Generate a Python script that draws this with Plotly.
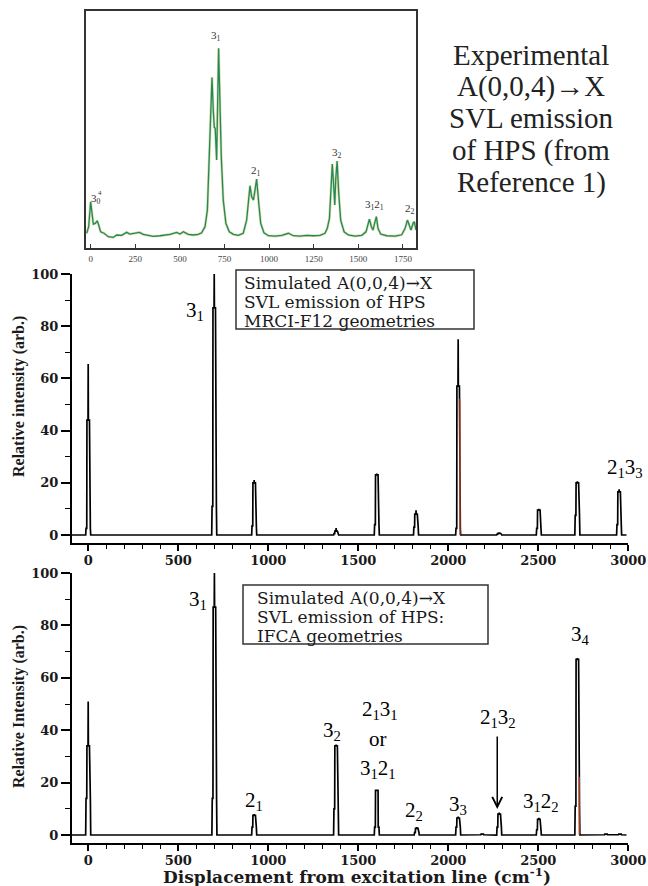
import plotly.graph_objects as go

# ---------------- data ----------------
# Experimental spectrum (arbitrary intensity units, 3_1 = 100)
exp_x = [-22, -11, 0, 7, 15, 26, 37, 45, 56, 75, 99, 127, 146, 174, 202, 220, 239, 273, 295, 323,
         351, 389, 416, 445, 482, 501, 519, 547, 575, 603, 622, 641, 654, 665, 680, 687, 693, 698,
         706, 717, 725, 732, 743, 758, 777, 800, 827, 855, 874, 893, 902, 912, 921, 930, 942, 953,
         971, 996, 1033, 1071, 1108, 1136, 1173, 1211, 1248, 1285, 1313, 1326, 1338, 1345, 1354,
         1362, 1368, 1373, 1381, 1390, 1401, 1420, 1444, 1481, 1519, 1543, 1562, 1573, 1582, 1592,
         1601, 1610, 1625, 1659, 1706, 1743, 1762, 1775, 1786, 1795, 1808, 1814, 1823]
exp_y = [2.0, 5.5, 18.7, 12.5, 6.9, 7.2, 8.6, 6.4, 2.8, 2.0, 0.2, -0.2, 1.1, 0.9, 2.5, 1.6, 2.0, 2.5,
         1.4, 0.7, 0.4, 0.7, 1.1, 1.4, 2.5, 1.6, 2.8, 1.4, 1.1, 1.4, 2.3, 5.5, 14.3, 40.8, 84.6, 67.3,
         58.1, 57.6, 40.8, 100, 67.3, 42.6, 19.6, 7.2, 2.8, 1.4, 0.9, 2.0, 9.0, 27.2, 21.4, 19.6, 24.9,
         30.7, 17.9, 7.2, 2.3, 0.7, 0.5, 0.9, 2.0, 0.7, 0.5, 0.9, 0.7, 0.9, 2.0, 4.6, 9.9, 23.2, 38.7,
         26.7, 17.0, 30.2, 40.3, 23.2, 9.0, 2.8, 1.1, 0.5, 0.9, 2.8, 9.5, 5.5, 3.7, 7.6, 10.8, 4.6,
         1.6, 0.7, 0.5, 1.2, 4.6, 9.0, 5.5, 3.7, 7.6, 8.1, 3.7]
exp_ticks = [0, 250, 500, 750, 1000, 1250, 1500, 1750]

# Simulated, MRCI-F12 geometries
mrci_pos = [0, 700, 922, 1377, 1603, 1821, 2055, 2283, 2503, 2717, 2949]
mrci_top = [65.5, 100, 21, 2.7, 23.5, 9.5, 75, 1.0, 10, 20.5, 17.5]
mrci_sh = [44, 87, 20, 1.5, 23, 8, 57, 0.6, 9.5, 20, 16.5]
mrci_base = [2.5, 11, 3.5, 0.5, 4, 3, 2.5, 0.3, 2.5, 7.5, 4]
mrci_red_pos = [2055]
mrci_red = [52]

# Simulated, IFCA geometries
ifca_pos = [0, 701, 922, 1377, 1603, 1825, 2055, 2189, 2283, 2503, 2717, 2876, 2954]
ifca_top = [51, 100, 8, 34.5, 17, 3, 7, 0.5, 8.5, 6.5, 67.5, 0.4, 0.4]
ifca_sh = [34, 87, 7.5, 34, 17, 2.5, 6.5, 0.3, 8, 6, 67, 0.3, 0.3]
ifca_base = [14, 14, 3, 10, 3, 1, 3, 0.1, 3, 2, 11, 0.1, 0.1]
ifca_red_pos = [2717]
ifca_red = [22]

sim_xticks = [0, 500, 1000, 1500, 2000, 2500, 3000]
sim_yticks = [0, 20, 40, 60, 80, 100]

SERIF = "Liberation Serif, Times New Roman, Times, serif"
WIDE_SERIF = "DejaVu Serif, serif"


def black_profile(pos, top, sh, base, x0=-90, x1=2990):
    xs, ys = [x0], [0]
    for p, t, s, b in zip(pos, top, sh, base):
        xs += [p - 14, p - 12, p - 8, p - 7, p - 1, p, p + 1, p + 7, p + 8, p + 12, p + 14]
        ys += [0, b, b, s, s, t, s, s, b, b, 0]
    xs.append(x1)
    ys.append(0)
    return xs, ys


def red_profile(pos, red):
    xs, ys = [], []
    for p, r in zip(pos, red):
        xs += [p + 6, p + 10, p + 10, None]
        ys += [r, r, 0, None]
    return xs, ys


fig = go.Figure()

# ---- top panel: experimental ----
fig.add_trace(go.Scatter(x=exp_x, y=exp_y, mode="lines", xaxis="x", yaxis="y",
                         line=dict(color="#c9c46a", width=2.6), opacity=0.6,
                         hoverinfo="skip", showlegend=False))
fig.add_trace(go.Scatter(x=exp_x, y=exp_y, mode="lines", xaxis="x", yaxis="y",
                         line=dict(color="#1f8a5c", width=1.3), showlegend=False))

# ---- middle panel ----
bx, by = black_profile(mrci_pos, mrci_top, mrci_sh, mrci_base)
fig.add_trace(go.Scatter(x=bx, y=by, mode="lines", xaxis="x2", yaxis="y2",
                         line=dict(color="black", width=1.7), showlegend=False))
rx, ry = red_profile(mrci_red_pos, mrci_red)
fig.add_trace(go.Scatter(x=rx, y=ry, mode="lines", xaxis="x2", yaxis="y2",
                         line=dict(color="#c8502e", width=1.2), showlegend=False))

# ---- bottom panel ----
bx, by = black_profile(ifca_pos, ifca_top, ifca_sh, ifca_base)
fig.add_trace(go.Scatter(x=bx, y=by, mode="lines", xaxis="x3", yaxis="y3",
                         line=dict(color="black", width=1.7), showlegend=False))
rx, ry = red_profile(ifca_red_pos, ifca_red)
fig.add_trace(go.Scatter(x=rx, y=ry, mode="lines", xaxis="x3", yaxis="y3",
                         line=dict(color="#c8502e", width=1.2), showlegend=False))

W, H = 648, 886


def px(x):
    return x / W


def py(y):
    return 1 - y / H


tick_font = dict(family=WIDE_SERIF, size=13, color="#1a1a1a", weight="bold")

sim_x_common = dict(range=[-90, 3000], showline=True, linecolor="black", linewidth=2,
                    ticks="outside", ticklen=6, tickwidth=1.5, tickcolor="black",
                    tickvals=sim_xticks, tickfont=tick_font, showgrid=False, zeroline=False,
                    ticklabelstandoff=-2, automargin=False,
                    minor=dict(ticks="outside", ticklen=4, tickwidth=1.2, tickcolor="black",
                               dtick=100, tick0=0, showgrid=False))
sim_y_common = dict(showline=True, linecolor="black", linewidth=2, automargin=False,
                    ticks="outside", ticklen=9, tickwidth=1.5, tickcolor="black",
                    tickvals=sim_yticks, tickfont=tick_font, showgrid=False, zeroline=False,
                    minor=dict(ticks="outside", ticklen=5, tickwidth=1.2, tickcolor="black",
                               dtick=10, tick0=0, showgrid=False))

fig.update_layout(
    width=W, height=H, margin=dict(l=0, r=0, t=0, b=0, autoexpand=False), autosize=False,
    paper_bgcolor="white", plot_bgcolor="white", showlegend=False,
    xaxis=dict(domain=[px(86), px(416)], range=[-26, 1823], anchor="y", automargin=False,
               showline=True, mirror=True, linecolor="#333", linewidth=1.5,
               ticks="inside", ticklen=4, tickcolor="#333", tickvals=exp_ticks,
               tickfont=dict(family=SERIF, size=9, color="#444"), ticklabelstandoff=1,
               showgrid=False, zeroline=False),
    yaxis=dict(domain=[py(248), py(11)], range=[-5.8, 119.8], anchor="x", automargin=False,
               showline=True, mirror=True, linecolor="#333", linewidth=1.5,
               showticklabels=False, ticks="", showgrid=False, zeroline=False),
    xaxis2=dict(domain=[px(72), px(628.3)], anchor="y2", **sim_x_common),
    yaxis2=dict(domain=[py(543), py(274)], range=[-3.07, 100], anchor="x2", **sim_y_common),
    xaxis3=dict(domain=[px(72), px(628.3)], anchor="y3", **sim_x_common),
    yaxis3=dict(domain=[py(843), py(573)], range=[-3.05, 100], anchor="x3", **sim_y_common),
)

ann = []
small = dict(family=SERIF, size=11, color="#333")
for txt, x, y in [("3<sub>1</sub>", 702, 106.5), ("3<sub>0</sub>", 32, 20),
                  ("2<sub>1</sub>", 927, 35), ("3<sub>2</sub>", 1380, 44.5),
                  ("3<sub>1</sub>2<sub>1</sub>", 1588, 17), ("2<sub>2</sub>", 1787, 14.8)]:
    ann.append(dict(text=txt, x=x, y=y, xref="x", yref="y", showarrow=False,
                    font=small, xanchor="center", yanchor="middle"))
ann.append(dict(text="4", x=50, y=23.5, xref="x", yref="y", showarrow=False,
                font=dict(family=SERIF, size=7, color="#333"), xanchor="center", yanchor="middle"))

big = dict(family=SERIF, size=21, color="black")
for txt, x, y in [("3<sub>1</sub>", 594, 86), ("2<sub>1</sub>3<sub>3</sub>", 2983, 25.7)]:
    ann.append(dict(text=txt, x=x, y=y, xref="x2", yref="y2", showarrow=False,
                    font=big, xanchor="center", yanchor="middle"))
for txt, x, y in [("3<sub>1</sub>", 611, 89.7), ("2<sub>1</sub>", 922, 13),
                  ("3<sub>2</sub>", 1356, 39.7), ("2<sub>1</sub>3<sub>1</sub>", 1622, 47.7),
                  ("or", 1611, 36.6), ("3<sub>1</sub>2<sub>1</sub>", 1611, 25.2),
                  ("2<sub>2</sub>", 1811, 9.2), ("3<sub>3</sub>", 2056, 11.5),
                  ("2<sub>1</sub>3<sub>2</sub>", 2278, 44.7), ("3<sub>1</sub>2<sub>2</sub>", 2517, 12.6),
                  ("3<sub>4</sub>", 2733, 76.3)]:
    ann.append(dict(text=txt, x=x, y=y, xref="x3", yref="y3", showarrow=False,
                    font=big, xanchor="center", yanchor="middle"))

# arrow for 2_1 3_2
ann.append(dict(text="", x=2272, y=9.9, ax=2272, ay=38.2, xref="x3", yref="y3",
                axref="x3", ayref="y3", showarrow=True, arrowhead=5, arrowsize=1.3,
                arrowwidth=1.5, arrowcolor="black", standoff=0))

# experimental description
for txt, y in [("Experimental", 55), ("A(0,0,4)\u2192X", 87), ("SVL emission", 118),
               ("of HPS (from", 150), ("Reference 1)", 182)]:
    ann.append(dict(text=txt, x=px(531), y=py(y), xref="paper", yref="paper", showarrow=False,
                    font=dict(family=SERIF, size=29, color="#222"),
                    xanchor="center", yanchor="middle"))

box_font = dict(family=WIDE_SERIF, size=17, color="#1a1a1a")
for txt, y in [("Simulated A(0,0,4)\u2192X", 283), ("SVL emission of HPS", 302),
               ("MRCI-F12 geometries", 321)]:
    ann.append(dict(text=txt, x=px(242), y=py(y), xref="paper", yref="paper", showarrow=False,
                    font=box_font, xanchor="left", yanchor="middle"))
for txt, y in [("Simulated A(0,0,4)\u2192X", 598), ("SVL emission of HPS:", 617),
               ("IFCA geometries", 636)]:
    ann.append(dict(text=txt, x=px(255), y=py(y), xref="paper", yref="paper", showarrow=False,
                    font=box_font, xanchor="left", yanchor="middle"))

# axis titles
ytf = dict(family=SERIF, size=16, color="#1a1a1a", weight="bold")
ann.append(dict(text="Relative intensity (arb.)", x=px(19), y=py(397), xref="paper", yref="paper",
                showarrow=False, textangle=-90, font=ytf, xanchor="center", yanchor="middle"))
ann.append(dict(text="Relative Intensity (arb.)", x=px(19), y=py(707), xref="paper", yref="paper",
                showarrow=False, textangle=-90, font=ytf, xanchor="center", yanchor="middle"))
ann.append(dict(text="Displacement from excitation line (cm<sup>-1</sup>)", x=px(357), y=py(876),
                xref="paper", yref="paper", showarrow=False,
                font=dict(family=WIDE_SERIF, size=17, color="#1a1a1a", weight="bold"),
                xanchor="center", yanchor="middle"))

fig.update_layout(annotations=ann)

shapes = [
    dict(type="rect", xref="paper", yref="paper", x0=px(236), x1=px(474), y0=py(329), y1=py(270),
         line=dict(color="#333", width=1.5)),
    dict(type="rect", xref="paper", yref="paper", x0=px(243), x1=px(488), y0=py(644), y1=py(585),
         line=dict(color="#333", width=1.5)),
]
fig.update_layout(shapes=shapes)

fig.write_html("out.html")
